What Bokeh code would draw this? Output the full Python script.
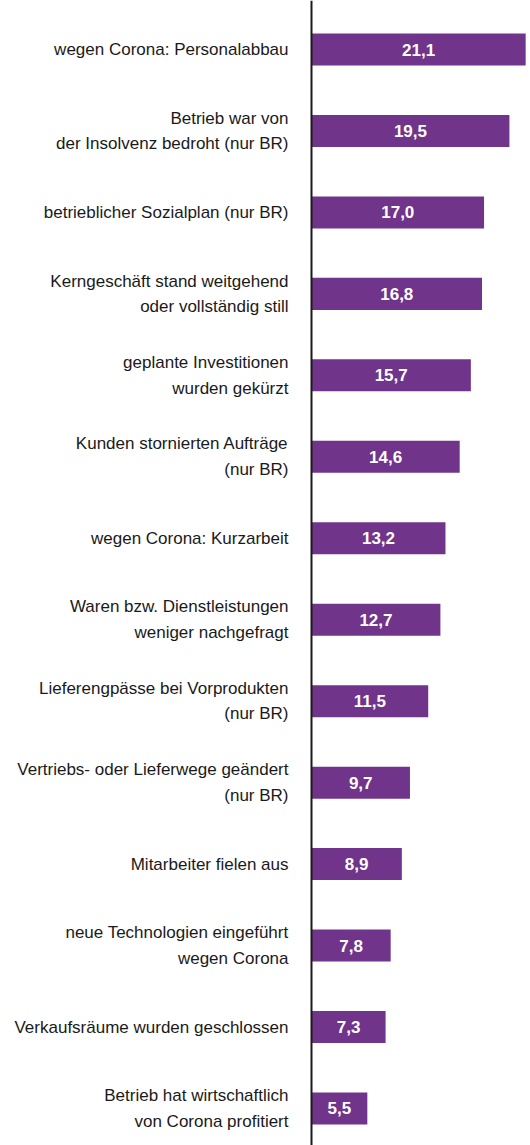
from bokeh.plotting import figure
from bokeh.models import ColumnDataSource, Range1d, Span
from bokeh.core.properties import value
from bokeh.embed import file_html
from bokeh.resources import INLINE

categories = [
    "wegen Corona: Personalabbau",
    "Betrieb war von\nder Insolvenz bedroht (nur BR)",
    "betrieblicher Sozialplan (nur BR)",
    "Kerngeschäft stand weitgehend\noder vollständig still",
    "geplante Investitionen\nwurden gekürzt",
    "Kunden stornierten Aufträge\n(nur BR)",
    "wegen Corona: Kurzarbeit",
    "Waren bzw. Dienstleistungen\nweniger nachgefragt",
    "Lieferengpässe bei Vorprodukten\n(nur BR)",
    "Vertriebs- oder Lieferwege geändert\n(nur BR)",
    "Mitarbeiter fielen aus",
    "neue Technologien eingeführt\nwegen Corona",
    "Verkaufsräume wurden geschlossen",
    "Betrieb hat wirtschaftlich\nvon Corona profitiert",
]
values = [21.1, 19.5, 17.0, 16.8, 15.7, 14.6, 13.2, 12.7, 11.5, 9.7, 8.9, 7.8, 7.3, 5.5]

value_labels = [f"{v:.1f}".replace(".", ",") for v in values]
rows = list(range(len(categories)))

W, H = 530, 1145
axis_px = 311
scale = 10.15
x_start = -axis_px / scale
x_end = (W - axis_px) / scale
spacing = 81.46
first_center = 49
y_top = -first_center / spacing
y_bottom = (H - first_center) / spacing
gap = 23 / scale

src = ColumnDataSource(dict(
    row=rows,
    val=values,
    half=[v / 2 for v in values],
    cat=categories,
    lab=value_labels,
    lab_x=[-gap] * len(values),
))

p = figure(width=W, height=H, output_backend="svg", toolbar_location=None,
           x_range=Range1d(x_start, x_end), y_range=Range1d(y_bottom, y_top),
           min_border=0, min_border_left=0, min_border_right=0,
           min_border_top=0, min_border_bottom=0)
p.axis.visible = False
p.grid.visible = False
p.outline_line_color = None
p.background_fill_color = "white"
p.border_fill_color = "white"

p.hbar(y="row", left=0, right="val", height=0.393, source=src,
       fill_color="#70348A", line_color=None)

p.add_layout(Span(location=0, dimension="height", line_color="#1a1a1a", line_width=2))

p.text(x="lab_x", y="row", text="cat", source=src,
       text_align="right", text_baseline="middle",
       text_font=value("Liberation Sans"), text_font_size="17px",
       text_color="#1a1a1a", text_line_height=1.35)

p.text(x="half", y="row", text="lab", source=src,
       text_align="center", text_baseline="middle",
       text_font=value("Liberation Sans"), text_font_size="17px",
       text_font_style="bold", text_color="white")

open("out.html", "w").write(file_html(p, INLINE))
